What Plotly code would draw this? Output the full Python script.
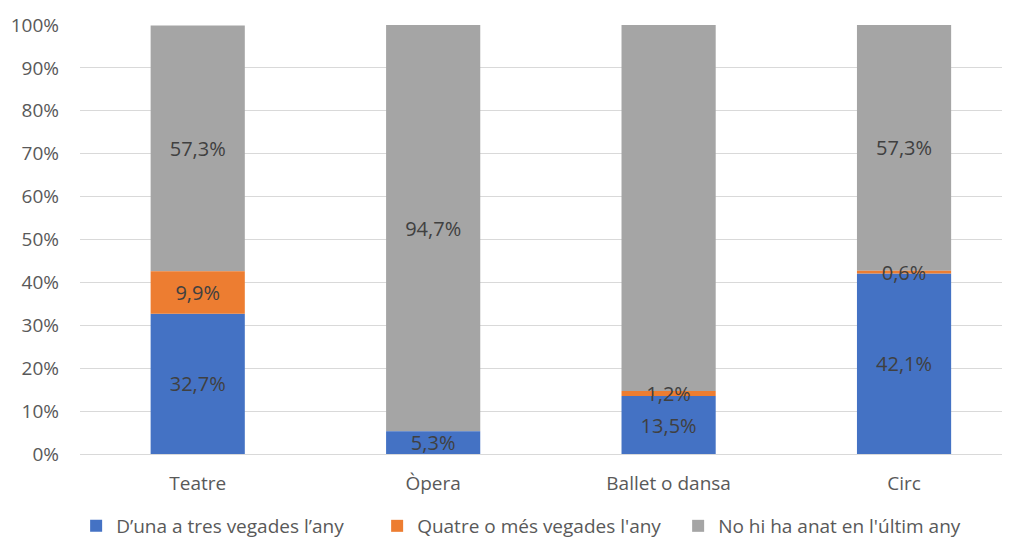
import plotly.graph_objects as go

# Data (percent)
categories = ['Teatre', 'Òpera', 'Ballet o dansa', 'Circ']
series_names = ["D\u2019una a tres vegades l\u2019any", "Quatre o més vegades l'any", "No hi ha anat en l'últim any"]
una_tres = [32.7, 5.3, 13.5, 42.1]
quatre_mes = [9.9, 0.0, 1.2, 0.6]
no_anat = [57.3, 94.7, 85.4, 57.3]
colors = ['#4472C4', '#ED7D31', '#A5A5A5']


def fmt(v):
    # Catalan decimal comma, hide empty segments
    return '' if v == 0 else f'{v:.1f}%'.replace('.', ',')


# stack by hand so the thin orange segment (and its label) is drawn last, on top
bases = [
    [0] * len(categories),
    una_tres,
    [a + b for a, b in zip(una_tres, quatre_mes)],
]
series = [una_tres, quatre_mes, no_anat]
draw_order = [2, 0, 1]

fig = go.Figure()
for i in draw_order:
    fig.add_trace(go.Bar(
        x=categories, y=series[i], base=bases[i], name=series_names[i],
        legendrank=i + 1,
        marker=dict(color=colors[i], line=dict(width=0)),
        text=[fmt(v) for v in series[i]],
        textposition='inside', insidetextanchor='middle',
        textfont=dict(color='#404040', size=20),
        constraintext='none', cliponaxis=False,
    ))

# page body adds an 8px offset, so the figure is 8px smaller than the window
fig.update_layout(
    barmode='overlay',
    bargap=0.6,
    width=1002, height=534,
    margin=dict(l=72, r=0, t=17, b=88, autoexpand=False),
    plot_bgcolor='white', paper_bgcolor='white',
    font=dict(family='Open Sans, Liberation Sans, sans-serif', color='#595959', size=19),
    legend=dict(orientation='h', xref='container', yref='container',
                x=0.068, xanchor='left', y=0.03, yanchor='middle',
                font=dict(size=19, color='#595959'), traceorder='normal',
                entrywidthmode='pixels', entrywidth=256, itemwidth=30),
    showlegend=True,
)
fig.update_xaxes(range=[-0.5, 3.45], showgrid=False, showline=False, ticks='',
                 automargin=False, ticklabelstandoff=16,
                 tickfont=dict(size=19, color='#595959'))
fig.update_yaxes(range=[0, 100], dtick=10, ticksuffix='%', showgrid=True,
                 gridcolor='#D9D9D9', gridwidth=1, zeroline=True, zerolinecolor='#D9D9D9',
                 zerolinewidth=1, automargin=False, ticklabelstandoff=20,
                 tickfont=dict(size=19, color='#595959'))

fig.write_html('out.html')
